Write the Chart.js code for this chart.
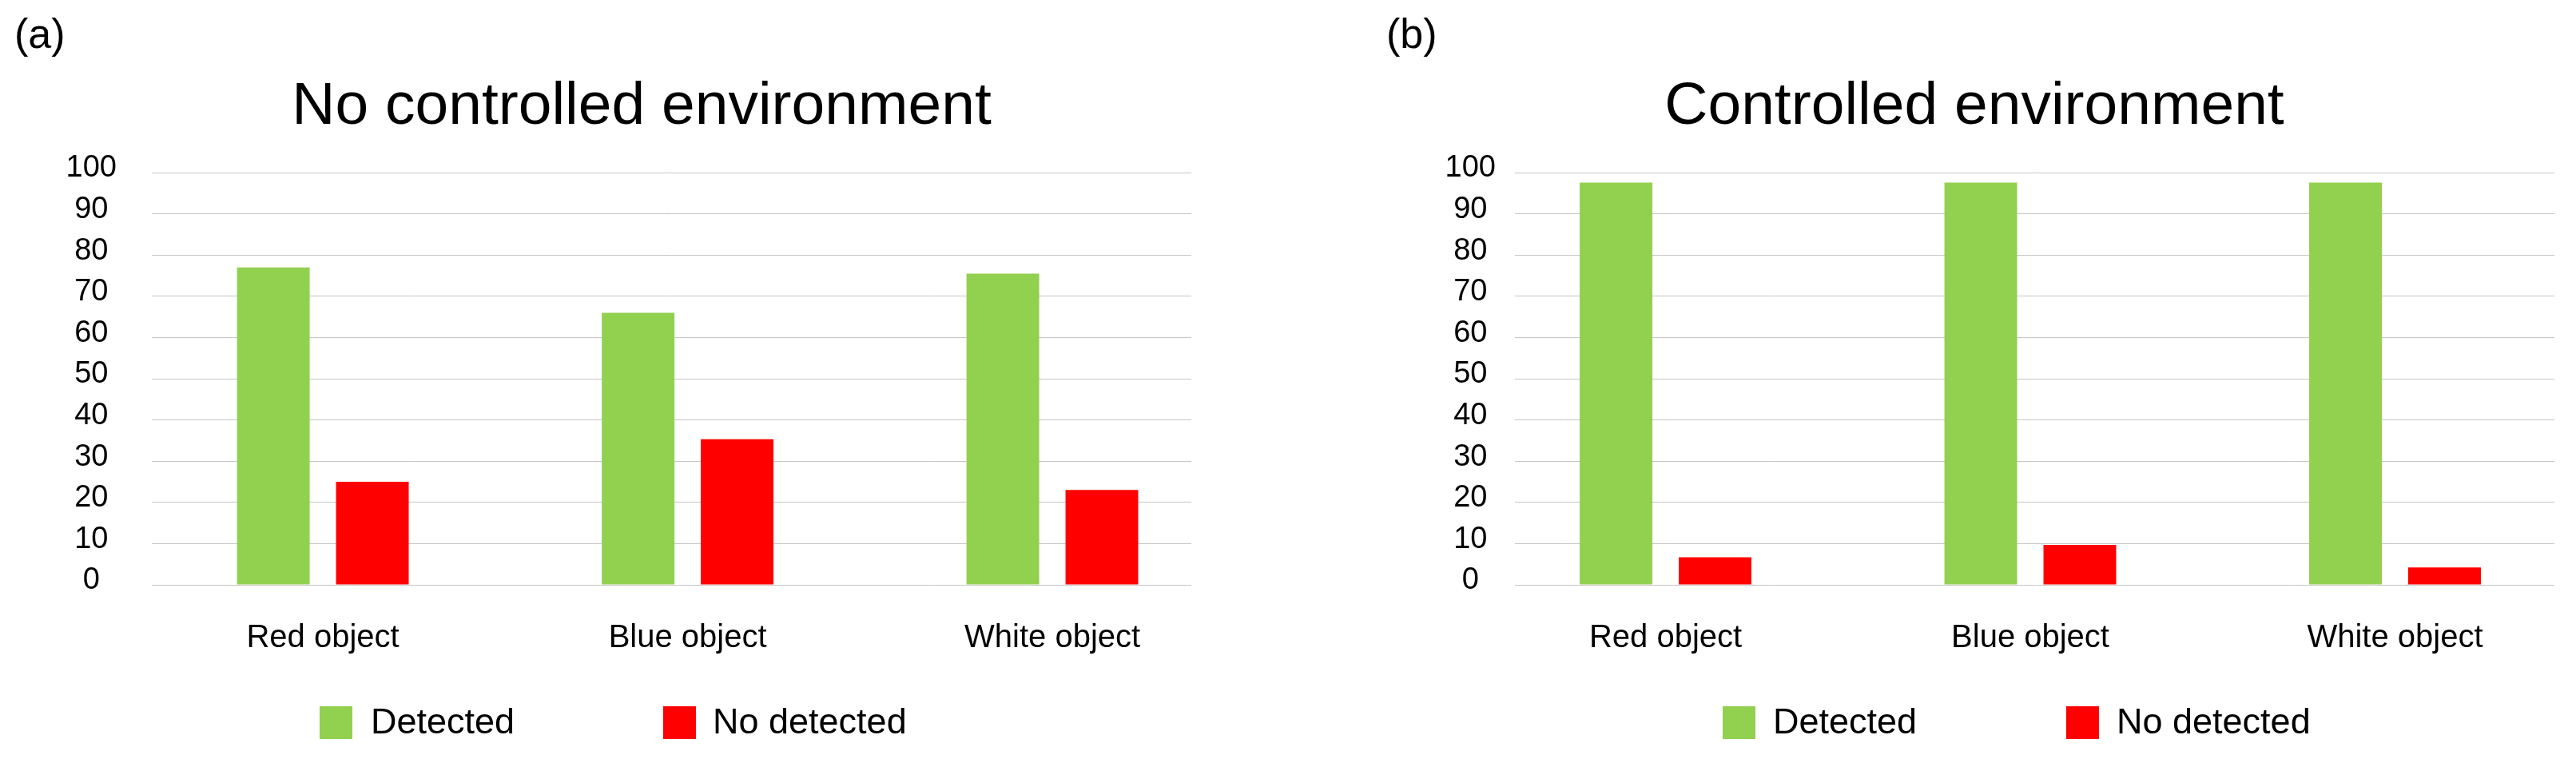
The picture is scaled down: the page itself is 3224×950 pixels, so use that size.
<!DOCTYPE html>
<html lang="en">
  <head>
    <meta charset="UTF-8" />
    <title>Detection results</title>
    <script src="https://cdn.jsdelivr.net/npm/chart.js"></script>
    <style>
      body {
        margin: 0;
        background: #fff;
        font-family: "Liberation Sans", Arial, sans-serif;
        color: #000;
      }
      .page {
        position: relative;
        width: 3224px;
        height: 950px;
        overflow: hidden;
      }
      canvas {
        position: absolute;
        top: 0;
      }
      .txt {
        position: absolute;
        line-height: 1;
        white-space: nowrap;
      }
      .panel-tag {
        font-size: 52px;
        top: 16px;
      }
      .panel-title {
        font-size: 75px;
        top: 92px;
        width: 1000px;
        text-align: center;
      }
      .swatch {
        position: absolute;
        top: 884px;
        width: 41px;
        height: 41px;
      }
      .legend-text {
        font-size: 45px;
        top: 880px;
      }
    </style>
  </head>
  <body>
    <div class="page">
      <canvas id="chartA" width="1612" height="950" style="left: 0"></canvas>
      <canvas id="chartB" width="1612" height="950" style="left: 1612px"></canvas>

      <!-- panel labels and titles -->
      <div class="txt panel-tag" style="left: 18px">(a)</div>
      <div class="txt panel-tag" style="left: 1735px">(b)</div>
      <div class="txt panel-title" style="left: 303px">No controlled environment</div>
      <div class="txt panel-title" style="left: 1971px">Controlled environment</div>

      <!-- legends -->
      <div class="swatch" style="left: 400px; background: #92d050"></div>
      <div class="txt legend-text" style="left: 464px">Detected</div>
      <div class="swatch" style="left: 830px; background: #ff0000"></div>
      <div class="txt legend-text" style="left: 892px">No detected</div>

      <div class="swatch" style="left: 2156px; background: #92d050"></div>
      <div class="txt legend-text" style="left: 2219px">Detected</div>
      <div class="swatch" style="left: 2586px; background: #ff0000"></div>
      <div class="txt legend-text" style="left: 2649px">No detected</div>
    </div>

    <script>
      const categories = ["Red object", "Blue object", "White object"];
      const yTicks = [0, 10, 20, 30, 40, 50, 60, 70, 80, 90, 100];

      // (a) no controlled environment
      const detectedA = [77, 66, 75.5];
      const noDetectedA = [25, 35.3, 23];

      // (b) controlled environment
      const detectedB = [97.6, 97.6, 97.6];
      const noDetectedB = [6.7, 9.7, 4.2];

      const GREEN = "#92d050";
      const RED = "#ff0000";
      const FONT = "'Liberation Sans', Arial, sans-serif";

      function toPoints(values) {
        return values.map((v, i) => ({ x: i, y: v }));
      }

      function makeChart(id, detected, noDetected, cfg) {
        return new Chart(document.getElementById(id), {
          type: "bar",
          data: {
            datasets: [
              {
                label: "Detected",
                data: toPoints(detected),
                backgroundColor: GREEN,
              },
              {
                label: "No detected",
                data: toPoints(noDetected),
                backgroundColor: RED,
              },
            ],
          },
          options: {
            responsive: false,
            animation: false,
            categoryPercentage: 0.543,
            barPercentage: 0.734,
            layout: {
              padding: { top: 216, right: cfg.padRight, bottom: 118, left: 0 },
            },
            plugins: {
              legend: { display: false },
              tooltip: { enabled: false },
            },
            scales: {
              x: {
                type: "linear",
                offset: false,
                min: cfg.xMin,
                max: cfg.xMax,
                grid: { display: false },
                border: { display: false },
                afterBuildTicks: (s) => {
                  s.ticks = categories.map((c, i) => ({ value: i }));
                },
                afterFit: (s) => {
                  s.height = 100;
                },
                ticks: {
                  padding: 35,
                  maxRotation: 0,
                  autoSkip: false,
                  color: "#000",
                  font: { family: FONT, size: 40 },
                  callback: (v) => categories[v],
                },
              },
              y: {
                min: 0,
                max: 100,
                grid: { color: "#c6c6c6", lineWidth: 1, drawTicks: false },
                border: { display: false },
                afterBuildTicks: (s) => {
                  s.ticks = yTicks.map((v) => ({ value: v }));
                },
                afterFit: (s) => {
                  s.width = cfg.yWidth;
                },
                ticks: {
                  padding: cfg.yPad,
                  crossAlign: "center",
                  labelOffset: -5,
                  color: "#000",
                  font: { family: FONT, size: 38 },
                },
              },
            },
          },
        });
      }

      makeChart("chartA", detectedA, noDetectedA, {
        yWidth: 190,
        yPad: 44,
        padRight: 121,
        xMin: -0.469,
        xMax: 2.381,
      });

      makeChart("chartB", detectedB, noDetectedB, {
        yWidth: 284,
        yPad: 24,
        padRight: 27,
        xMin: -0.413,
        xMax: 2.437,
      });
    </script>
  </body>
</html>
